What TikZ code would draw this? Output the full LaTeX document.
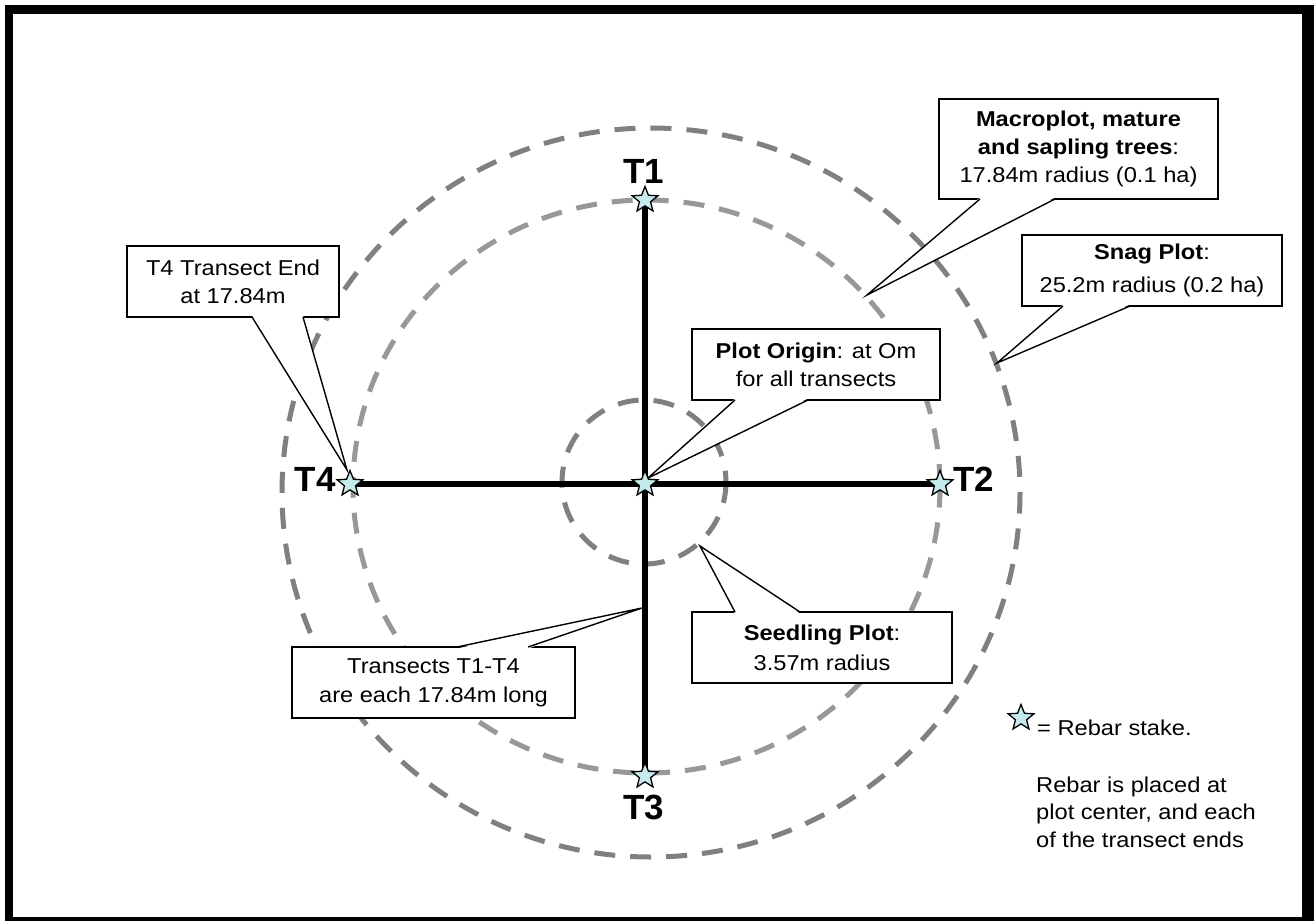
\documentclass[tikz,border=0pt]{standalone}
\usepackage{fontspec}
\setmainfont{Liberation Sans}[FakeStretch=1.1]
\newfontfamily\labfont{Liberation Sans}
\usetikzlibrary{shapes.geometric,calc}
\definecolor{starfill}{RGB}{198,234,236}
\definecolor{outergray}{RGB}{128,128,128}
\definecolor{innergray}{RGB}{152,152,152}
\tikzset{
  stake/.style={star, star points=5, star point ratio=2.3, minimum size=27, inner sep=0,
    draw=black, line width=1.3, fill=starfill},
  transect/.style={line width=5.5, black},
  plotring/.style={line width=5, dash pattern=on 21 off 15},
  callbox/.style={draw=black, line width=1.4, fill=white, align=center, inner sep=0,
    font=\fontsize{21.5}{28}\selectfont},
  wedge/.style={black, line width=1.4, line join=miter},
  wedgefill/.style={fill=white},
  tlabel/.style={font=\labfont\bfseries\fontsize{35}{35}\selectfont, inner sep=0},
  plain/.style={inner sep=0, font=\fontsize{21.5}{27.5}\selectfont, align=left},
}
\begin{document}
\begin{tikzpicture}[x=1pt,y=-1pt]
\useasboundingbox (0,0) rectangle (1314,921);
% frame
\fill[black] (5,5) rectangle (1314,921);
\fill[white] (13,14) rectangle (1302,917);

% plot rings
\draw[plotring, outergray] (651,492.5) ellipse [x radius=369, y radius=364.5];
\draw[plotring, innergray] (646.5,486.5) ellipse [x radius=293.5, y radius=286.5];
\draw[plotring, outergray] (644,482) ellipse [x radius=82, y radius=82];

% transect points
\coordinate (pc) at (645,484);
\coordinate (p1) at (645,200);
\coordinate (p2) at (940,484);
\coordinate (p3) at (645,776);
\coordinate (p4) at (350,484);
\draw[transect] (p4) -- (p2);
\draw[transect] (p1) -- (p3);

% callout: T4 transect end
\node[callbox, minimum width=212, minimum height=71] (t4box) at (233,281.5)
  {T4 Transect End\\at 17.84m};
\coordinate (t4tip) at (347,470);
\fill[wedgefill] (252,315.5) -- (t4tip) -- (303,315.5) -- cycle;
\draw[wedge] (252,317) -- (t4tip) -- (303,317);

% callout: macroplot
\node[callbox, minimum width=279, minimum height=100] (macbox) at (1078.5,149)
  {\textbf{Macroplot, mature}\\\textbf{and sapling trees}:\\17.84m radius (0.1 ha)};
\coordinate (mactip) at (867,295);
\fill[wedgefill] (980,197.5) -- (mactip) -- (1055,197.5) -- cycle;
\draw[wedge] (980,199) -- (mactip) -- (1055,199);

% callout: snag plot
\node[callbox, minimum width=260, minimum height=71,
  font=\fontsize{21.5}{33}\selectfont] (snagbox) at (1152,270.5)
  {\textbf{Snag Plot}:\\25.2m radius (0.2 ha)};
\coordinate (snagtip) at (997,363);
\fill[wedgefill] (1063,304.5) -- (snagtip) -- (1130,304.5) -- cycle;
\draw[wedge] (1063,306) -- (snagtip) -- (1130,306);

% callout: plot origin
\node[callbox, minimum width=248, minimum height=71] (origbox) at (816,364.5)
  {\textbf{Plot Origin}: at Om\\for all transects};
\coordinate (origtip) at (648,478);
\fill[wedgefill] (735,398.5) -- (origtip) -- (808,398.5) -- cycle;
\draw[wedge] (735,400) -- (origtip) -- (808,400);

% callout: transects
\node[callbox, minimum width=283, minimum height=71,
  font=\fontsize{21.5}{29}\selectfont] (tranbox) at (433.5,682.5)
  {Transects T1-T4\\are each 17.84m long};
\coordinate (trantip) at (642,608);
\fill[wedgefill] (457,648.5) -- (trantip) -- (528,648.5) -- cycle;
\draw[wedge] (457,647) -- (trantip) -- (528,647);

% callout: seedling plot
\node[callbox, minimum width=260, minimum height=71,
  font=\fontsize{21.5}{30}\selectfont] (seedbox) at (822,647.5)
  {\textbf{Seedling Plot}:\\3.57m radius};
\coordinate (seedtip) at (700,546);
\fill[wedgefill] (735,613.5) -- (seedtip) -- (800,613.5) -- cycle;
\draw[wedge] (735,612) -- (seedtip) -- (800,612);

% rebar stakes
\node[stake] (s0) at (pc) {};
\node[stake] (s1) at (p1) {};
\node[stake] (s2) at (p2) {};
\node[stake] (s3) at (p3) {};
\node[stake] (s4) at (p4) {};

% transect labels
\node[tlabel, anchor=base] (l1) at (644,183) {T1};
\node[tlabel, anchor=base west] (l2) at (953,491) {T2};
\node[tlabel, anchor=base] (l3) at (644,819) {T3};
\node[tlabel, anchor=base east] (l4) at (336,491) {T4};

% legend
\node[stake] (legstar) at (1021,718) {};
\node[plain, anchor=base west] (legtext) at (1037,735) {= Rebar stake.};
\node[plain, anchor=north west] (note) at (1036,776.5)
  {Rebar is placed at\\plot center, and each\\of the transect ends};
\end{tikzpicture}
\end{document}
